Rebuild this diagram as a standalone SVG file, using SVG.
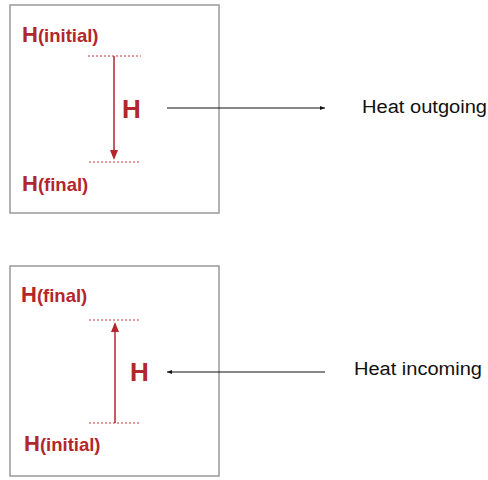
<svg xmlns="http://www.w3.org/2000/svg" width="488" height="480" viewBox="0 0 488 480">
<defs>
<style>
.box{fill:#fff;stroke:#999;stroke-width:1.5}
.red{fill:#b3262b;font-family:"Liberation Sans",Arial,sans-serif;font-weight:bold}
.big{font-size:22px}
.mid{font-size:26px}
.sub{font-size:18.5px}
.dot{stroke:#c0393e;stroke-width:1;stroke-dasharray:2,2}
.rarr{stroke:#b3262b;stroke-width:1.5}
.conn{stroke:#111;stroke-width:1;fill:none}
.lbl{fill:#111;font-family:"Liberation Sans",Arial,sans-serif;font-size:18px}
</style>
<marker id="ra" markerWidth="10" markerHeight="10" refX="5" refY="4" orient="auto" markerUnits="userSpaceOnUse" viewBox="0 0 10 8"><path d="M0,0 L10,4 L0,8 z" fill="#b3262b"/></marker>
<marker id="ka" markerWidth="5" markerHeight="4" refX="5" refY="2" orient="auto" markerUnits="userSpaceOnUse"><path d="M0,0 L5,2 L0,4 z" fill="#111"/></marker>
</defs>
<g id="box1">
<rect class="box" x="10" y="5" width="209" height="208"/>
<text class="red" x="22" y="42"><tspan class="big">H</tspan><tspan class="sub">(initial)</tspan></text>
<line class="dot" x1="88" y1="56" x2="141" y2="56"/>
<line class="dot" x1="89" y1="162" x2="141" y2="162"/>
<line class="rarr" x1="114" y1="56" x2="114" y2="155" marker-end="url(#ra)"/>
<text class="red mid" x="122" y="118">H</text>
<text class="red" x="22" y="191"><tspan class="big">H</tspan><tspan class="sub">(final)</tspan></text>
</g>
<g id="box2">
<rect class="box" x="10" y="266" width="209" height="210"/>
<text class="red" x="21" y="302"><tspan class="big">H</tspan><tspan class="sub">(final)</tspan></text>
<line class="dot" x1="89" y1="320" x2="141" y2="320"/>
<line class="dot" x1="89" y1="423" x2="141" y2="423"/>
<line class="rarr" x1="115" y1="423" x2="115" y2="327" marker-end="url(#ra)"/>
<text class="red mid" x="130" y="381">H</text>
<text class="red" x="24" y="451"><tspan class="big">H</tspan><tspan class="sub">(initial)</tspan></text>
</g>
<g id="connectors">
<line class="conn" x1="167" y1="108" x2="325" y2="108" marker-end="url(#ka)"/>
<line class="conn" x1="325" y1="372" x2="167" y2="372" marker-end="url(#ka)"/>
</g>
<g id="label-out"><text class="lbl" x="362" y="113" textLength="125" lengthAdjust="spacingAndGlyphs">Heat outgoing</text></g>
<g id="label-in"><text class="lbl" x="354" y="375" textLength="128" lengthAdjust="spacingAndGlyphs">Heat incoming</text></g>
</svg>
